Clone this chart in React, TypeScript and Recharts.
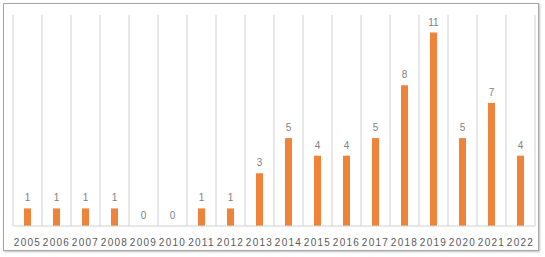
import React from "react";
import { ComposedChart, Bar, Line, XAxis, YAxis, CartesianGrid, LabelList } from "recharts";

// Years on the x axis
const YEARS = [
  "2005", "2006", "2007", "2008", "2009", "2010", "2011", "2012", "2013",
  "2014", "2015", "2016", "2017", "2018", "2019", "2020", "2021", "2022",
];

// Count per year
const COUNTS = [1, 1, 1, 1, 0, 0, 1, 1, 3, 5, 4, 4, 5, 8, 11, 5, 7, 4];

const data = YEARS.map((year, i) => ({ year, count: COUNTS[i] }));

const BAR_COLOR = "#F0833A";
const GRID_COLOR = "#d0d0d0";
const FONT = "Liberation Sans, Arial, sans-serif";

// vertical lines sit between the categories, not on them
const boundaryLines = ({ offset }: any) => {
  const step = offset.width / YEARS.length;
  return Array.from({ length: YEARS.length + 1 }, (_, i) => offset.left + i * step);
};

const App: React.FC = () => {
  return (
    <div style={{ position: "absolute", left: 0, top: 0, width: 545, height: 257, background: "#fff" }}>
      <div
        style={{
          position: "absolute",
          left: 3,
          top: 3,
          width: 534,
          height: 246,
          border: "1px solid #a6a6a6",
          boxShadow: "1px 1px 2px rgba(0,0,0,0.25)",
        }}
      />
      <ComposedChart
        width={545}
        height={257}
        data={data}
        margin={{ top: 15, right: 10, bottom: 6, left: 13 }}
        style={{ position: "absolute", left: 0, top: 0 }}
      >
        <CartesianGrid
          horizontal={false}
          stroke={GRID_COLOR}
          verticalCoordinatesGenerator={boundaryLines}
        />
        <XAxis
          dataKey="year"
          interval={0}
          height={25}
          tickLine={false}
          axisLine={{ stroke: GRID_COLOR }}
          tick={{
            fill: "#595959",
            fontSize: 10,
            fontFamily: FONT,
            letterSpacing: 1.3,
          }}
          tickMargin={7}
        />
        <YAxis hide domain={[0, 12]} width={0} />
        <Bar dataKey="count" fill={BAR_COLOR} barSize={7} isAnimationActive={false} />
        {/* invisible line only to carry the value labels, so zeros get one too */}
        <Line
          dataKey="count"
          stroke="none"
          dot={false}
          activeDot={false}
          isAnimationActive={false}
        >
          <LabelList dataKey="count" position="top" offset={7} fill="#7f7f7f" fontSize={10} fontFamily={FONT} />
        </Line>
      </ComposedChart>
    </div>
  );
};

export default App;
